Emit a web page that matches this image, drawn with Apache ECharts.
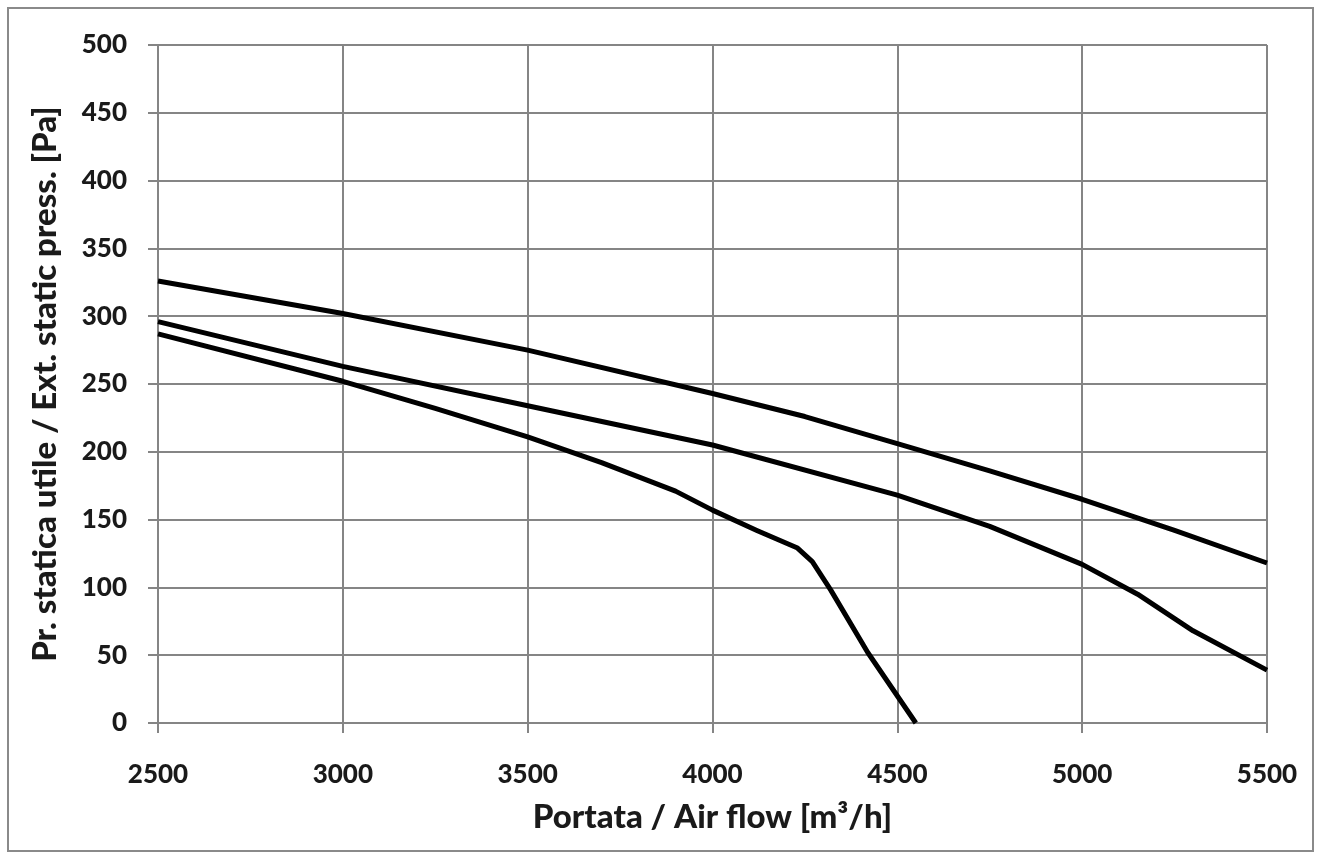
<!DOCTYPE html>
<html>
<head>
<meta charset="utf-8">
<script src="https://cdn.jsdelivr.net/npm/echarts@6/dist/echarts.min.js"></script>
<style>
    html, body { margin: 0; padding: 0; background: #fff; }
    #frame {
        position: absolute; left: 7px; top: 7px;
        width: 1303px; height: 841px;
        border: 2px solid #8a8a8a;
    }
    #fanChart { position: absolute; left: 0; top: 0; width: 1317px; height: 856px; }
</style>
</head>
<body>
<div id="frame"></div>
<div id="fanChart"></div>
<script>
// curve 1 (top)
var flowA = [2500, 3000, 3500, 4000, 4250, 4500, 4750, 5000, 5250, 5500];
var pressA = [326, 302, 275, 243, 226, 206, 186, 165, 142, 118];
// curve 2 (middle)
var flowB = [2500, 3000, 3500, 4000, 4500, 4750, 5000, 5150, 5300, 5500];
var pressB = [296, 263, 234, 205, 168, 145, 117, 95, 68, 39];
// curve 3 (bottom)
var flowC = [2500, 3000, 3250, 3500, 3700, 3900, 4000, 4120, 4230, 4270, 4320, 4420, 4550];
var pressC = [287, 252, 232, 211, 192, 171, 157, 142, 129, 119, 98, 52, 0];

var xTitle = "Portata / Air flow [m³/h]";
var yTitle = "Pr. statica utile / Ext. static press. [Pa]";

function pairs(xs, ys) {
    return xs.map(function (x, i) { return [x, ys[i]]; });
}

var chart = echarts.init(document.getElementById("fanChart"));
var font = "Lato, 'Open Sans', sans-serif";
var gridLine = { show: true, lineStyle: { color: "#858585", width: 2 } };

var lineSeries = [pairs(flowA, pressA), pairs(flowB, pressB), pairs(flowC, pressC)].map(function (d) {
    return {
        type: "line",
        data: d,
        symbol: "none",
        smooth: false,
        animation: false,
        lineStyle: { color: "#000", width: 5, join: "round", cap: "butt" }
    };
});

var option = {
    backgroundColor: "transparent",
    grid: { left: 158, right: 50, top: 45, bottom: 133 },
    xAxis: {
        type: "value",
        min: 2500,
        max: 5500,
        interval: 500,
        name: xTitle,
        nameLocation: "middle",
        nameGap: 78,
        nameTextStyle: { fontFamily: font, fontWeight: 900, fontSize: 33, color: "#1a1a1a" },
        axisLine: { show: true, lineStyle: { color: "#858585", width: 2 } },
        axisTick: { show: true, length: 10, lineStyle: { color: "#858585", width: 2 } },
        axisLabel: {
            margin: 39, fontFamily: font, fontWeight: 900, fontSize: 26, color: "#1a1a1a",
            formatter: function (v) { return String(v); }
        },
        splitLine: gridLine
    },
    yAxis: {
        type: "value",
        min: 0,
        max: 500,
        interval: 50,
        name: yTitle,
        nameLocation: "middle",
        nameGap: 96,
        nameTextStyle: { fontFamily: font, fontWeight: 900, fontSize: 33, color: "#1a1a1a" },
        axisLine: { show: true, lineStyle: { color: "#858585", width: 2 } },
        axisTick: { show: true, length: 10, lineStyle: { color: "#858585", width: 2 } },
        axisLabel: {
            margin: 31, fontFamily: font, fontWeight: 900, fontSize: 26, color: "#1a1a1a",
            formatter: function (v) { return String(v); }
        },
        splitLine: gridLine
    },
    series: lineSeries
};

chart.setOption(option);
</script>
</body>
</html>
